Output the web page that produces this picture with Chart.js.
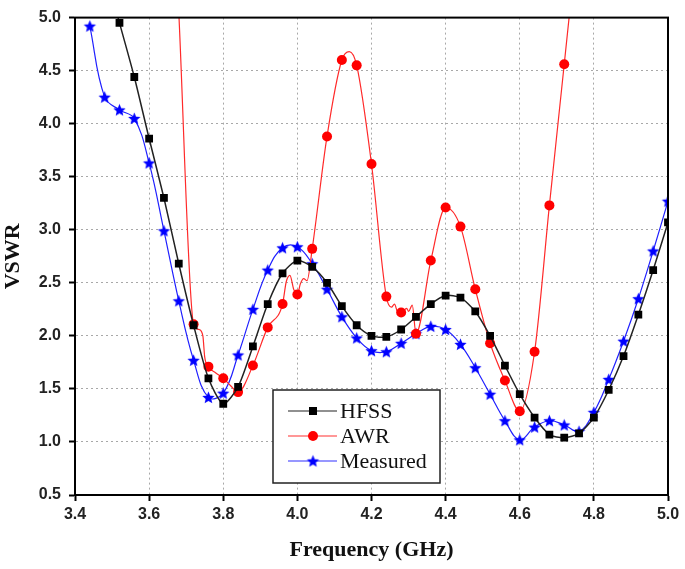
<!DOCTYPE html>
<html>
<head>
<meta charset="utf-8">
<script src="https://cdn.jsdelivr.net/npm/chart.js@4"></script>
<style>
  body { margin: 0; background: #fff; }
  #wrap { width: 685px; height: 569px; position: relative; }
</style>
</head>
<body>
<div id="wrap"><canvas id="vswrChart"></canvas></div>
<script>
// ── Data ──
const xTicks = [3.4, 3.6, 3.8, 4.0, 4.2, 4.4, 4.6, 4.8, 5.0];
const yTicks = [0.5, 1.0, 1.5, 2.0, 2.5, 3.0, 3.5, 4.0, 4.5, 5.0];

const hfssFreq = [3.48, 3.52, 3.56, 3.60, 3.64, 3.68, 3.72, 3.76, 3.80, 3.84, 3.88, 3.92, 3.96, 4.00, 4.04, 4.08, 4.12, 4.16, 4.20, 4.24,
                  4.28, 4.32, 4.36, 4.40, 4.44, 4.48, 4.52, 4.56, 4.60, 4.64, 4.68, 4.72, 4.76, 4.80, 4.84, 4.88, 4.92, 4.96, 5.00];
const hfssVswr = [5.45, 4.95, 4.44, 3.86, 3.30, 2.68, 2.10, 1.60, 1.36, 1.52, 1.90, 2.30, 2.59, 2.71, 2.65, 2.50, 2.28, 2.10, 2.00, 1.99,
                  2.06, 2.18, 2.30, 2.38, 2.36, 2.23, 2.00, 1.72, 1.45, 1.23, 1.07, 1.04, 1.08, 1.23, 1.49, 1.81, 2.20, 2.62, 3.07];

const awrFreq = [3.68, 3.72, 3.735, 3.745, 3.75, 3.76, 3.78, 3.80, 3.82, 3.84, 3.88, 3.92, 3.96, 3.97, 3.98, 3.99, 4.00, 4.008, 4.017, 4.026,
                 4.04, 4.08, 4.12, 4.14, 4.16, 4.20, 4.24, 4.254, 4.262, 4.27, 4.28, 4.295, 4.30, 4.31, 4.32, 4.36, 4.40, 4.44, 4.48, 4.52,
                 4.56, 4.60, 4.64, 4.68, 4.72, 4.76];
const awrVswr = [5.05, 2.11, 2.06, 2.00, 1.80, 1.71, 1.65, 1.60, 1.53, 1.47, 1.72, 2.08, 2.30, 2.51, 2.57, 2.44, 2.39, 2.49, 2.54, 2.52,
                 2.82, 3.88, 4.60, 4.68, 4.55, 3.62, 2.37, 2.27, 2.30, 2.23, 2.22, 2.26, 2.23, 2.29, 2.02, 2.71, 3.21, 3.03, 2.44, 1.93,
                 1.58, 1.29, 1.85, 3.23, 4.56, 5.90];

const measFreq = [3.44, 3.48, 3.52, 3.56, 3.60, 3.64, 3.68, 3.72, 3.76, 3.80, 3.84, 3.88, 3.92, 3.96, 4.00, 4.04, 4.08, 4.12, 4.16, 4.20,
                  4.24, 4.28, 4.32, 4.36, 4.40, 4.44, 4.48, 4.52, 4.56, 4.60, 4.64, 4.68, 4.72, 4.76, 4.80, 4.84, 4.88, 4.92, 4.96, 5.00];
const measVswr = [4.92, 4.25, 4.13, 4.05, 3.63, 2.99, 2.33, 1.77, 1.42, 1.46, 1.82, 2.25, 2.62, 2.83, 2.84, 2.68, 2.44, 2.18, 1.98, 1.86,
                  1.85, 1.93, 2.02, 2.09, 2.06, 1.92, 1.70, 1.45, 1.20, 1.02, 1.14, 1.20, 1.16, 1.10, 1.28, 1.59, 1.95, 2.35, 2.80, 3.27];

// ── Helpers ──
const pts = (xs, ys) => xs.map((x, i) => ({ x, y: ys[i] }));
// AWR trace is dense; only every 0.04 GHz carries a marker
const onMarkerStep = x => { const k = x * 100; return Math.abs(k - Math.round(k)) < 1e-6 && Math.round(k) % 4 === 0; };

function makeStar(color, r) {
  const c = document.createElement('canvas');
  const s = Math.ceil(r * 2 + 2);
  c.width = s; c.height = s;
  const g = c.getContext('2d');
  g.fillStyle = color;
  g.beginPath();
  for (let i = 0; i < 10; i++) {
    const rad = i % 2 ? r * 0.45 : r;
    const a = -Math.PI / 2 + i * Math.PI / 5;
    g.lineTo(s / 2 + rad * Math.cos(a), s / 2 + 0.5 + rad * Math.sin(a));
  }
  g.closePath();
  g.fill();
  return c;
}
const starImg = makeStar('#0000ff', 6.5);

// ── Frame + legend box drawn on top ──
const framePlugin = {
  id: 'frame',
  afterDatasetsDraw(chart) {
    const { ctx, chartArea: a } = chart;
    ctx.save();
    ctx.setLineDash([]);
    ctx.strokeStyle = '#000';
    ctx.lineWidth = 2;
    ctx.strokeRect(a.left, a.top, a.right - a.left, a.bottom - a.top);
    ctx.restore();
  }
};

const legendPlugin = {
  id: 'boxLegend',
  afterDraw(chart) {
    const { ctx } = chart;
    const bx = 273, by = 390, bw = 167, bh = 93;
    ctx.save();
    ctx.setLineDash([]);
    ctx.fillStyle = '#fff';
    ctx.fillRect(bx, by, bw, bh);
    ctx.strokeStyle = '#222';
    ctx.lineWidth = 1.5;
    ctx.strokeRect(bx, by, bw, bh);
    const rows = [
      { label: 'HFSS', color: '#000', line: '#222', kind: 'rect' },
      { label: 'AWR', color: '#ff0000', line: '#ff3030', kind: 'circle' },
      { label: 'Measured', color: '#0000ff', line: '#3030ff', kind: 'star' }
    ];
    rows.forEach((r, i) => {
      const y = 411 + i * 25;
      ctx.strokeStyle = r.line;
      ctx.lineWidth = 1.2;
      ctx.beginPath(); ctx.moveTo(288, y); ctx.lineTo(337, y); ctx.stroke();
      ctx.fillStyle = r.color;
      if (r.kind === 'rect') ctx.fillRect(313 - 4, y - 4, 8, 8);
      else if (r.kind === 'circle') { ctx.beginPath(); ctx.arc(313, y, 5, 0, Math.PI * 2); ctx.fill(); }
      else ctx.drawImage(starImg, 313 - starImg.width / 2, y - starImg.height / 2);
      ctx.fillStyle = '#111';
      ctx.font = '22px "Liberation Serif", "Times New Roman", serif';
      ctx.textBaseline = 'middle';
      ctx.fillText(r.label, 340, y + 1);
    });
    ctx.restore();
  }
};

const gridOpts = {
  color: '#a8a8a8',
  lineWidth: 1,
  tickColor: '#000',
  tickWidth: 2,
  tickLength: 6,
  tickBorderDash: []
};
// in v4 border.dash styles the grid lines
const borderOpts = { color: '#000', width: 2, dash: [2, 3] };
const tickFont = { family: '"Liberation Sans", Arial, sans-serif', size: 16, weight: 'bold' };
const titleFont = { family: '"Liberation Serif", "Times New Roman", serif', size: 22, weight: 'bold' };

new Chart(document.getElementById('vswrChart').getContext('2d'), {
  type: 'line',
  data: {
    datasets: [
      {
        label: 'HFSS', data: pts(hfssFreq, hfssVswr),
        borderColor: '#222', borderWidth: 1.5, tension: 0.25,
        pointStyle: 'rect', pointRadius: 5.5, pointBackgroundColor: '#000', pointBorderWidth: 0
      },
      {
        label: 'AWR', data: pts(awrFreq, awrVswr),
        borderColor: '#ff2a2a', borderWidth: 1.2, cubicInterpolationMode: 'monotone',
        pointStyle: 'circle', pointBackgroundColor: '#ff0000', pointBorderWidth: 0,
        pointRadius: ctx => onMarkerStep(ctx.raw.x) ? 5 : 0
      },
      {
        label: 'Measured', data: pts(measFreq, measVswr),
        borderColor: '#2020ff', borderWidth: 1.2, tension: 0.4,
        pointStyle: starImg, pointRadius: 6
      }
    ]
  },
  options: {
    responsive: true,
    maintainAspectRatio: false,
    animation: false,
    layout: { padding: { left: 0, top: 13, right: 17, bottom: 0 } },
    plugins: { legend: { display: false }, tooltip: { enabled: false } },
    scales: {
      x: {
        type: 'linear', min: 3.4, max: 5.0,
        afterBuildTicks: s => { s.ticks = xTicks.map(v => ({ value: v })); },
        afterFit: s => { s.height = 74; },
        ticks: { color: '#222', font: tickFont, padding: 4, callback: v => v.toFixed(1) },
        grid: gridOpts,
        border: borderOpts,
        title: { display: true, text: 'Frequency (GHz)', color: '#111', font: titleFont, padding: { top: 2, bottom: 5 } }
      },
      y: {
        min: 0.5, max: 5.0,
        afterBuildTicks: s => { s.ticks = yTicks.map(v => ({ value: v })); },
        afterFit: s => { s.width = 75; },
        ticks: { color: '#222', font: tickFont, padding: 8, callback: v => v.toFixed(1) },
        grid: gridOpts,
        border: borderOpts,
        title: { display: true, text: 'VSWR', color: '#111', font: titleFont, padding: { top: 0, bottom: 0 } }
      }
    }
  },
  plugins: [framePlugin, legendPlugin]
});
</script>
</body>
</html>
